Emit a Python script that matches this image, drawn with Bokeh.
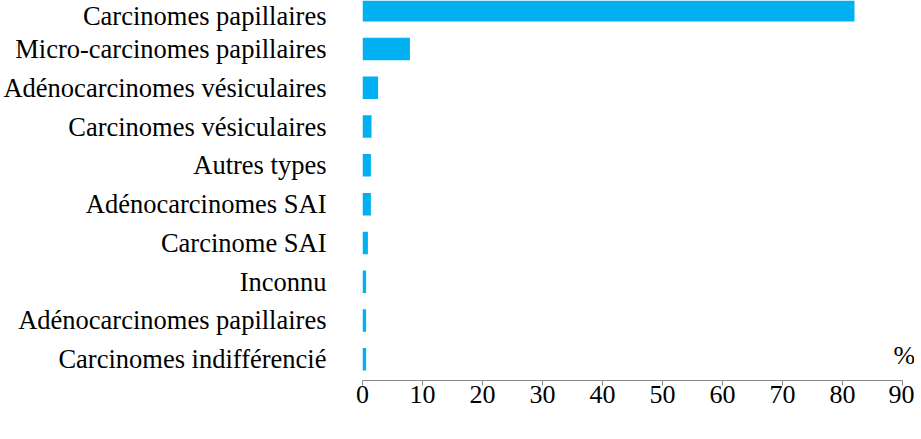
from bokeh.plotting import figure
from bokeh.models import Range1d, FixedTicker, Label, ColumnDataSource
from bokeh.embed import file_html
from bokeh.resources import INLINE

categories = [
    "Carcinomes papillaires",
    "Micro-carcinomes papillaires",
    "Adénocarcinomes vésiculaires",
    "Carcinomes vésiculaires",
    "Autres types",
    "Adénocarcinomes SAI",
    "Carcinome SAI",
    "Inconnu",
    "Adénocarcinomes papillaires",
    "Carcinomes indifférencié",
]
values = [82.0, 7.9, 2.6, 1.5, 1.4, 1.4, 0.9, 0.6, 0.6, 0.6]
x_ticks = [0, 10, 20, 30, 40, 50, 60, 70, 80, 90]
unit_label = "%"

n = len(categories)
positions = [n - 1 - i for i in range(n)]
src = ColumnDataSource(dict(y=positions, v=values, name=categories))

FONT = "Liberation Serif"

p = figure(
    frame_width=552, frame_height=380,
    x_range=Range1d(0, 92), y_range=Range1d(-0.548, 9.251),
    output_backend="svg", toolbar_location=None,
    min_border_left=353, min_border_right=0, min_border_top=0, min_border_bottom=30,
)
p.hbar(y="y", right="v", left=0, height=0.58, source=src,
       fill_color="#00B0F0", line_color=None)

p.xgrid.visible = False
p.ygrid.visible = False
p.outline_line_color = None

xa = p.xaxis[0]
xa.ticker = FixedTicker(ticks=x_ticks)
xa.bounds = (0, 90)
xa.axis_line_color = "#888888"
xa.major_tick_line_color = "#888888"
xa.major_tick_out = 5
xa.major_tick_in = 0
xa.minor_tick_line_color = None
xa.major_label_text_font = FONT
xa.major_label_text_font_size = "26px"
xa.major_label_text_color = "black"
xa.major_label_standoff = 0

ya = p.yaxis[0]
ya.ticker = FixedTicker(ticks=positions)
ya.major_label_overrides = {pos: name for pos, name in zip(positions, categories)}
ya.axis_line_color = None
ya.major_tick_line_color = None
ya.minor_tick_line_color = None
ya.major_label_text_font = FONT
ya.major_label_text_font_size = "26.5px"
ya.major_label_text_color = "black"
ya.major_label_standoff = 30

p.add_layout(Label(x=90.3, y=0.1, text=unit_label, text_font=FONT,
                   text_font_size="26px", text_color="black",
                   text_align="center", text_baseline="middle"))

open("out.html", "w").write(file_html(p, INLINE))
